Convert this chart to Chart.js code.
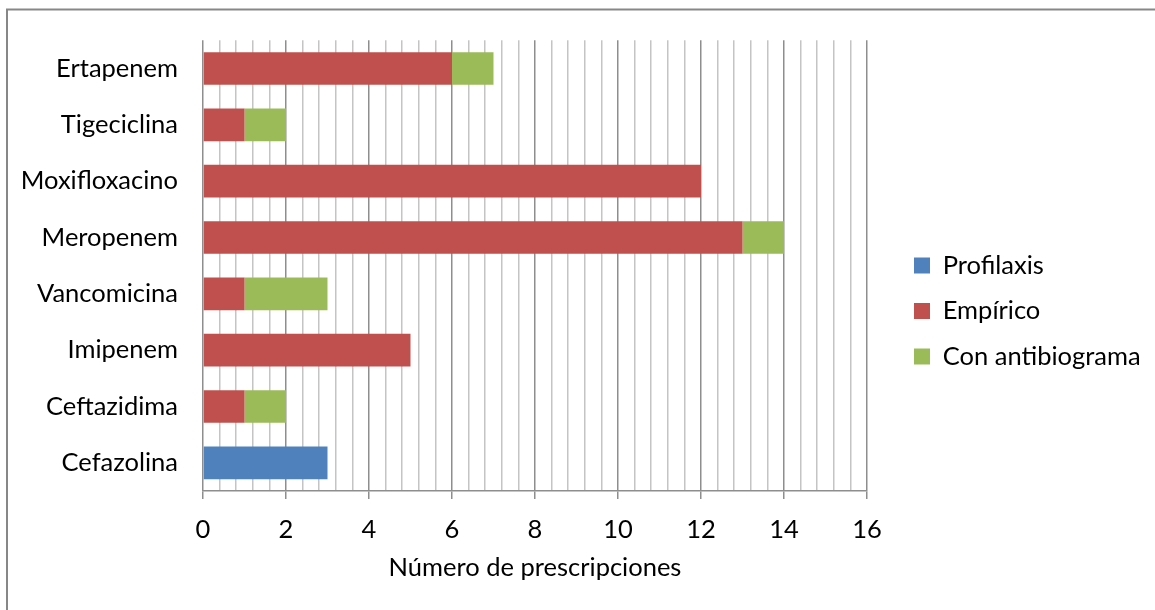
<!DOCTYPE html>
<html>
<head>
<meta charset="utf-8">
<script src="https://cdn.jsdelivr.net/npm/chart.js@4/dist/chart.umd.min.js"></script>
<style>
  html, body { margin: 0; padding: 0; background: #ffffff; }
  #wrap { width: 1155px; height: 610px; position: relative; }
</style>
</head>
<body>
<div id="wrap"><canvas id="c" width="1155" height="610"></canvas></div>
<script>
// Antibiotics, listed top to bottom
const categories = ['Ertapenem', 'Tigeciclina', 'Moxifloxacino', 'Meropenem', 'Vancomicina', 'Imipenem', 'Ceftazidima', 'Cefazolina'];

// Number of prescriptions by indication
const profilaxis      = [0, 0, 0, 0, 0, 0, 0, 3];
const empirico        = [6, 1, 12, 13, 1, 5, 1, 0];
const conAntibiograma = [1, 1, 0, 1, 2, 0, 1, 0];

const seriesNames = ['Profilaxis', 'Empírico', 'Con antibiograma'];
const xTickMin = 0;
const xTickMax = 16;
const xTickMajor = 2;
const xTickMinor = 0.4;
const xTitle = 'Número de prescripciones';

const FONT = 'Lato, "Liberation Sans", sans-serif';
const FONT_SIZE = 25.5;
const MAJOR_GRID = '#8e8e8e';
const MINOR_GRID = '#c4c4c4';

const isMajor = v => Math.abs(v / xTickMajor - Math.round(v / xTickMajor)) < 1e-6;

// Outer frame (top and left edges)
const framePlugin = {
  id: 'frame',
  beforeDraw(chart) {
    const ctx = chart.ctx;
    ctx.save();
    ctx.strokeStyle = '#878787';
    ctx.lineWidth = 2;
    ctx.beginPath();
    ctx.moveTo(7, 610);
    ctx.lineTo(7, 9.5);
    ctx.lineTo(1155, 9.5);
    ctx.stroke();
    ctx.restore();
  }
};

// Reserve a fixed-width column for the legend and nudge its items right,
// leaving white space between the plot and the legend entries.
const LEGEND_WIDTH = 288;
const LEGEND_SHIFT = 27;
const legendSpacing = {
  id: 'legendSpacing',
  beforeLayout(chart) {
    const lg = chart.legend;
    if (lg && !lg._fixedWidth) {
      const fit = lg.fit.bind(lg);
      lg.fit = function () { fit(); this.width = LEGEND_WIDTH; };
      lg._fixedWidth = true;
    }
  },
  afterLayout(chart) {
    const lg = chart.legend;
    if (lg) { lg.left += LEGEND_SHIFT; lg.right += LEGEND_SHIFT; }
  }
};

new Chart(document.getElementById('c'), {
  type: 'bar',
  data: {
    labels: categories,
    datasets: [
      { label: seriesNames[0], data: profilaxis,      backgroundColor: '#4f81bd', borderWidth: 0 },
      { label: seriesNames[1], data: empirico,        backgroundColor: '#c0504d', borderWidth: 0 },
      { label: seriesNames[2], data: conAntibiograma, backgroundColor: '#9bbb59', borderWidth: 0 }
    ]
  },
  options: {
    indexAxis: 'y',
    responsive: false,
    animation: false,
    devicePixelRatio: 1,
    layout: { padding: { top: 39, bottom: 27, left: 0, right: 0 } },
    datasets: { bar: { barPercentage: 0.58, categoryPercentage: 1 } },
    plugins: {
      tooltip: { enabled: false },
      legend: {
        position: 'right',
        align: 'center',
        labels: {
          boxWidth: 16,
          boxHeight: 16,
          padding: 20,
          color: '#000000',
          font: { family: FONT, size: FONT_SIZE }
        }
      }
    },
    scales: {
      x: {
        type: 'linear',
        stacked: true,
        min: xTickMin,
        max: xTickMax,
        afterFit(s) { s.height = 92; },
        ticks: {
          stepSize: xTickMinor,
          autoSkip: false,
          maxRotation: 0,
          padding: 15,
          color: '#000000',
          font: { family: FONT, size: FONT_SIZE },
          callback: v => (isMajor(v) ? String(Math.round(v)) : '')
        },
        grid: {
          color: c => (isMajor(c.tick.value) ? MAJOR_GRID : MINOR_GRID),
          tickColor: c => (isMajor(c.tick.value) ? MAJOR_GRID : 'rgba(0,0,0,0)'),
          lineWidth: 1.5,
          tickLength: 8,
          drawTicks: true
        },
        border: { display: true, color: MAJOR_GRID, width: 1.5 },
        title: {
          display: true,
          text: xTitle,
          color: '#000000',
          font: { family: FONT, size: FONT_SIZE },
          padding: { top: 0, bottom: 0 }
        }
      },
      y: {
        stacked: true,
        afterFit(s) { s.width = 203; },
        grid: { display: false, drawTicks: false },
        border: { display: false },
        ticks: {
          padding: 25,
          color: '#000000',
          font: { family: FONT, size: FONT_SIZE }
        }
      }
    }
  },
  plugins: [framePlugin, legendSpacing]
});
</script>
</body>
</html>
